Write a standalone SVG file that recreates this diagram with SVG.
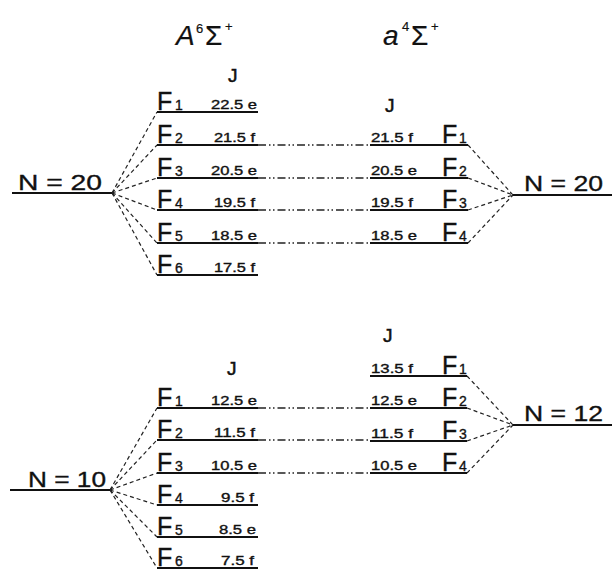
<svg xmlns="http://www.w3.org/2000/svg" width="612" height="571" viewBox="0 0 612 571">
  <style>
    text { font-family: "Liberation Sans", Arial, sans-serif; fill: #111; stroke: #111; stroke-width: 0.35; }
    .lvl { stroke: #111; stroke-width: 2; fill: none; }
    .fan { stroke: #222; stroke-width: 1.2; stroke-dasharray: 4 3; fill: none; }
    .link { stroke: #222; stroke-width: 1.3; stroke-dasharray: 8 3 1.5 2.5 1.5 3; fill: none; }
    .F { font-size: 25px; }
    .sub { font-size: 14px; }
    .jv { font-size: 12px; }
    .jl { font-size: 19px; stroke-width: 0.5; }
    .N { font-size: 22px; }
    .hd { font-size: 28px; stroke-width: 0.2; }
    .sup { font-size: 13px; stroke-width: 0.2; }
  </style>

  <!-- state headings -->
  <g id="head-A6Sigma">
    <text class="hd" x="176" y="45" font-style="italic">A</text>
    <text class="sup" x="196" y="33">6</text>
    <text class="hd" x="205" y="45">Σ</text>
    <text class="sup" x="225" y="31">+</text>
  </g>
  <g id="head-a4Sigma">
    <text class="hd" x="383" y="45" font-style="italic" font-size="30">a</text>
    <text class="sup" x="402" y="31">4</text>
    <text class="hd" x="411" y="45">Σ</text>
    <text class="sup" x="431" y="31">+</text>
  </g>

  <!-- J column labels -->
  <text class="jl" x="228" y="82">J</text>
  <text class="jl" x="385" y="112">J</text>
  <text class="jl" x="227" y="375">J</text>
  <text class="jl" x="383" y="342">J</text>

  <!-- connectors -->
  <g id="connectors">
    <!-- N=20 (A) fan -->
    <line class="fan" x1="112" y1="193" x2="157" y2="112"/>
    <line class="fan" x1="112" y1="193" x2="157" y2="145"/>
    <line class="fan" x1="112" y1="193" x2="157" y2="178"/>
    <line class="fan" x1="112" y1="193" x2="157" y2="210"/>
    <line class="fan" x1="112" y1="193" x2="157" y2="243"/>
    <line class="fan" x1="112" y1="193" x2="157" y2="275"/>
    <!-- N=20 (a) fan -->
    <line class="fan" x1="468" y1="145" x2="513" y2="195"/>
    <line class="fan" x1="468" y1="178" x2="513" y2="195"/>
    <line class="fan" x1="468" y1="210" x2="513" y2="195"/>
    <line class="fan" x1="468" y1="243" x2="513" y2="195"/>
    <!-- N=10 (A) fan -->
    <line class="fan" x1="110" y1="490" x2="157" y2="408"/>
    <line class="fan" x1="110" y1="490" x2="157" y2="440"/>
    <line class="fan" x1="110" y1="490" x2="157" y2="473"/>
    <line class="fan" x1="110" y1="490" x2="157" y2="505"/>
    <line class="fan" x1="110" y1="490" x2="157" y2="537"/>
    <line class="fan" x1="110" y1="490" x2="157" y2="568"/>
    <!-- N=12 (a) fan -->
    <line class="fan" x1="467" y1="376" x2="513" y2="425"/>
    <line class="fan" x1="467" y1="408" x2="513" y2="425"/>
    <line class="fan" x1="467" y1="441" x2="513" y2="425"/>
    <line class="fan" x1="467" y1="473" x2="513" y2="425"/>
    <!-- equal-J links between the two states -->
    <line class="link" x1="258" y1="145" x2="370" y2="145"/>
    <line class="link" x1="258" y1="178" x2="370" y2="178"/>
    <line class="link" x1="258" y1="210" x2="370" y2="210"/>
    <line class="link" x1="258" y1="243" x2="370" y2="243"/>
    <line class="link" x1="258" y1="408" x2="370" y2="408"/>
    <line class="link" x1="258" y1="440" x2="370" y2="440"/>
    <line class="link" x1="258" y1="473" x2="370" y2="473"/>
  </g>

  <!-- rotational levels N -->
  <g id="N20-A">
    <line class="lvl" x1="12" y1="193" x2="112" y2="193"/>
    <text class="N" x="18" y="190" textLength="84" lengthAdjust="spacingAndGlyphs">N = 20</text>
  </g>
  <g id="N20-a">
    <line class="lvl" x1="513" y1="195" x2="612" y2="195"/>
    <text class="N" x="524" y="191" textLength="79" lengthAdjust="spacingAndGlyphs">N = 20</text>
  </g>
  <g id="N10-A">
    <line class="lvl" x1="10" y1="490" x2="110" y2="490"/>
    <text class="N" x="28" y="487" textLength="78" lengthAdjust="spacingAndGlyphs">N = 10</text>
  </g>
  <g id="N12-a">
    <line class="lvl" x1="513" y1="425" x2="612" y2="425"/>
    <text class="N" x="524" y="421" textLength="79" lengthAdjust="spacingAndGlyphs">N = 12</text>
  </g>

  <!-- A state, N=20 spin components -->
  <g id="A20-F1"><line class="lvl" x1="157" y1="112" x2="258" y2="112"/><text class="F" x="157" y="110">F</text><text class="sub" x="175" y="110">1</text><text class="jv" x="211" y="109" textLength="46" lengthAdjust="spacingAndGlyphs">22.5 e</text></g>
  <g id="A20-F2"><line class="lvl" x1="157" y1="145" x2="258" y2="145"/><text class="F" x="157" y="143">F</text><text class="sub" x="175" y="143">2</text><text class="jv" x="214" y="142" textLength="41" lengthAdjust="spacingAndGlyphs">21.5 f</text></g>
  <g id="A20-F3"><line class="lvl" x1="157" y1="178" x2="258" y2="178"/><text class="F" x="157" y="176">F</text><text class="sub" x="175" y="176">3</text><text class="jv" x="211" y="175" textLength="46" lengthAdjust="spacingAndGlyphs">20.5 e</text></g>
  <g id="A20-F4"><line class="lvl" x1="157" y1="210" x2="258" y2="210"/><text class="F" x="157" y="208">F</text><text class="sub" x="175" y="208">4</text><text class="jv" x="214" y="207" textLength="41" lengthAdjust="spacingAndGlyphs">19.5 f</text></g>
  <g id="A20-F5"><line class="lvl" x1="157" y1="243" x2="258" y2="243"/><text class="F" x="157" y="241">F</text><text class="sub" x="175" y="241">5</text><text class="jv" x="211" y="240" textLength="46" lengthAdjust="spacingAndGlyphs">18.5 e</text></g>
  <g id="A20-F6"><line class="lvl" x1="157" y1="275" x2="258" y2="275"/><text class="F" x="157" y="273">F</text><text class="sub" x="175" y="273">6</text><text class="jv" x="214" y="272" textLength="41" lengthAdjust="spacingAndGlyphs">17.5 f</text></g>

  <!-- a state, N=20 spin components -->
  <g id="a20-F1"><line class="lvl" x1="370" y1="145" x2="468" y2="145"/><text class="jv" x="371" y="142" textLength="42" lengthAdjust="spacingAndGlyphs">21.5 f</text><text class="F" x="442" y="143">F</text><text class="sub" x="459" y="143">1</text></g>
  <g id="a20-F2"><line class="lvl" x1="370" y1="178" x2="468" y2="178"/><text class="jv" x="371" y="175" textLength="46" lengthAdjust="spacingAndGlyphs">20.5 e</text><text class="F" x="442" y="176">F</text><text class="sub" x="459" y="176">2</text></g>
  <g id="a20-F3"><line class="lvl" x1="370" y1="210" x2="468" y2="210"/><text class="jv" x="371" y="207" textLength="42" lengthAdjust="spacingAndGlyphs">19.5 f</text><text class="F" x="442" y="208">F</text><text class="sub" x="459" y="208">3</text></g>
  <g id="a20-F4"><line class="lvl" x1="370" y1="243" x2="468" y2="243"/><text class="jv" x="371" y="240" textLength="46" lengthAdjust="spacingAndGlyphs">18.5 e</text><text class="F" x="442" y="241">F</text><text class="sub" x="459" y="241">4</text></g>

  <!-- A state, N=10 spin components -->
  <g id="A10-F1"><line class="lvl" x1="157" y1="408" x2="258" y2="408"/><text class="F" x="157" y="406">F</text><text class="sub" x="175" y="406">1</text><text class="jv" x="211" y="405" textLength="46" lengthAdjust="spacingAndGlyphs">12.5 e</text></g>
  <g id="A10-F2"><line class="lvl" x1="157" y1="440" x2="258" y2="440"/><text class="F" x="157" y="438">F</text><text class="sub" x="175" y="438">2</text><text class="jv" x="214" y="437" textLength="41" lengthAdjust="spacingAndGlyphs">11.5 f</text></g>
  <g id="A10-F3"><line class="lvl" x1="157" y1="473" x2="258" y2="473"/><text class="F" x="157" y="471">F</text><text class="sub" x="175" y="471">3</text><text class="jv" x="211" y="470" textLength="46" lengthAdjust="spacingAndGlyphs">10.5 e</text></g>
  <g id="A10-F4"><line class="lvl" x1="157" y1="505" x2="258" y2="505"/><text class="F" x="157" y="503">F</text><text class="sub" x="175" y="503">4</text><text class="jv" x="221" y="502" textLength="33" lengthAdjust="spacingAndGlyphs">9.5 f</text></g>
  <g id="A10-F5"><line class="lvl" x1="157" y1="537" x2="258" y2="537"/><text class="F" x="157" y="535">F</text><text class="sub" x="175" y="535">5</text><text class="jv" x="219" y="534" textLength="37" lengthAdjust="spacingAndGlyphs">8.5 e</text></g>
  <g id="A10-F6"><line class="lvl" x1="157" y1="568" x2="258" y2="568"/><text class="F" x="157" y="566">F</text><text class="sub" x="175" y="566">6</text><text class="jv" x="221" y="565" textLength="33" lengthAdjust="spacingAndGlyphs">7.5 f</text></g>

  <!-- a state, N=12 spin components -->
  <g id="a12-F1"><line class="lvl" x1="370" y1="376" x2="467" y2="376"/><text class="jv" x="371" y="373" textLength="42" lengthAdjust="spacingAndGlyphs">13.5 f</text><text class="F" x="442" y="374">F</text><text class="sub" x="459" y="374">1</text></g>
  <g id="a12-F2"><line class="lvl" x1="370" y1="408" x2="467" y2="408"/><text class="jv" x="371" y="405" textLength="46" lengthAdjust="spacingAndGlyphs">12.5 e</text><text class="F" x="442" y="406">F</text><text class="sub" x="459" y="406">2</text></g>
  <g id="a12-F3"><line class="lvl" x1="370" y1="441" x2="467" y2="441"/><text class="jv" x="371" y="438" textLength="42" lengthAdjust="spacingAndGlyphs">11.5 f</text><text class="F" x="442" y="439">F</text><text class="sub" x="459" y="439">3</text></g>
  <g id="a12-F4"><line class="lvl" x1="370" y1="473" x2="467" y2="473"/><text class="jv" x="371" y="470" textLength="46" lengthAdjust="spacingAndGlyphs">10.5 e</text><text class="F" x="442" y="471">F</text><text class="sub" x="459" y="471">4</text></g>
</svg>
